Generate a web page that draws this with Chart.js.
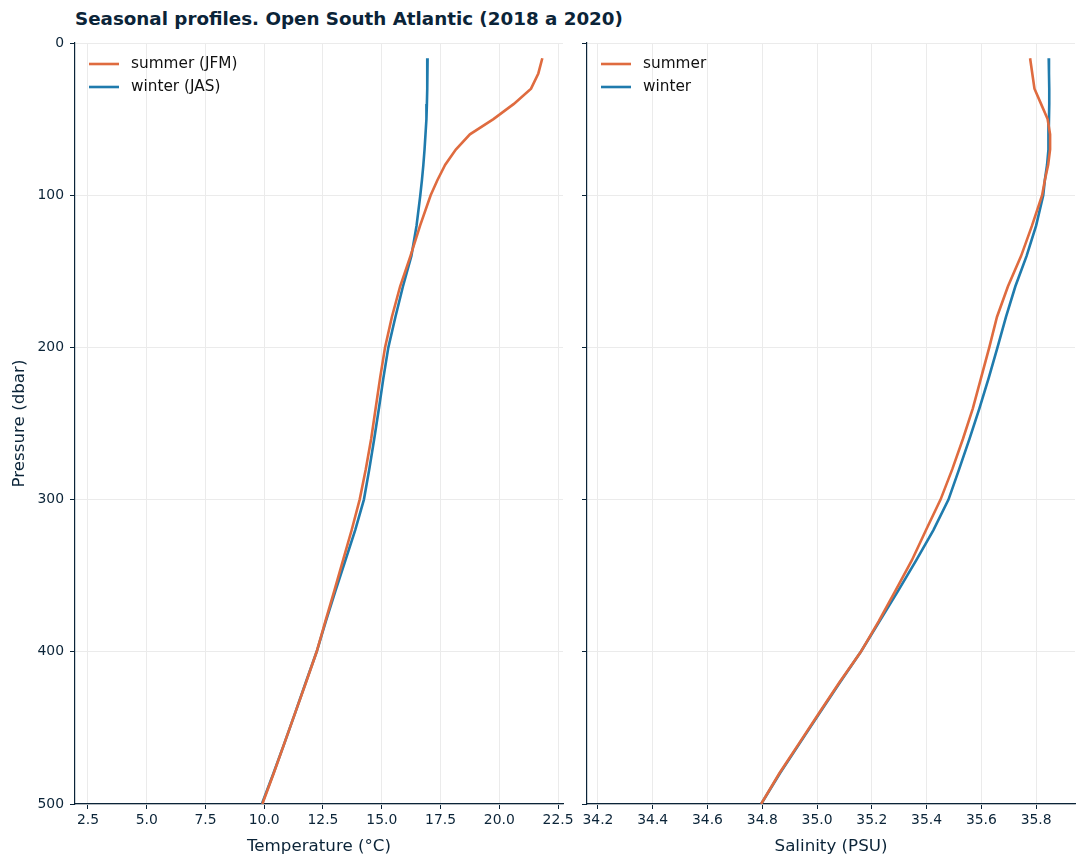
<!DOCTYPE html>
<html>
<head>
<meta charset="utf-8">
<script src="https://cdn.jsdelivr.net/npm/chart.js@4.4.1/dist/chart.umd.min.js"></script>
<style>
  body { margin: 0; background: #fff; width: 1085px; height: 865px; position: relative; overflow: hidden; font-family: "DejaVu Sans", sans-serif; }
  #title { position: absolute; left: 75px; top: 8px; font-weight: bold; font-size: 18.3px; color: #0b2438; white-space: nowrap; }
  .box { position: absolute; top: 0; height: 865px; }
  #tempBox { left: 0; width: 590px; }
  #salBox { left: 560px; width: 525px; }
</style>
</head>
<body>
<div id="title">Seasonal profiles. Open South Atlantic (2018 a 2020)</div>
<div class="box" id="tempBox"><canvas id="temp-chart"></canvas></div>
<div class="box" id="salBox"><canvas id="sal-chart"></canvas></div>
<script>
// pressure levels (dbar) shared by all profiles
const pressureLevels = [10, 20, 30, 40, 50, 60, 70, 80, 90, 100,
    120, 140, 160, 180, 200, 220, 240, 260, 280, 300,
    320, 340, 360, 380, 400, 420, 440, 460, 480, 500];

// temperature (°C)
const tempSummer = [21.83, 21.66, 21.35, 20.62, 19.75, 18.75, 18.15, 17.70, 17.37, 17.08,
    16.63, 16.22, 15.78, 15.43, 15.14, 14.93, 14.74, 14.55, 14.32, 14.06,
    13.72, 13.35, 12.98, 12.60, 12.23, 11.78, 11.32, 10.86, 10.40, 9.92];
const tempWinter = [16.95, 16.94, 16.93, 16.92, 16.90, 16.86, 16.82, 16.77, 16.71, 16.64,
    16.48, 16.26, 15.90, 15.58, 15.28, 15.07, 14.88, 14.68, 14.47, 14.24,
    13.87, 13.45, 13.03, 12.62, 12.23, 11.77, 11.32, 10.86, 10.39, 9.90];

// salinity (PSU)
const salSummer = [35.778, 35.786, 35.794, 35.818, 35.842, 35.851, 35.851, 35.844, 35.832, 35.822,
    35.785, 35.745, 35.697, 35.657, 35.629, 35.599, 35.569, 35.533, 35.494, 35.451,
    35.398, 35.346, 35.286, 35.225, 35.160, 35.082, 35.008, 34.935, 34.862, 34.796];
const salWinter = [35.846, 35.847, 35.848, 35.848, 35.847, 35.846, 35.844, 35.840, 35.832, 35.826,
    35.800, 35.765, 35.724, 35.690, 35.659, 35.627, 35.593, 35.557, 35.519, 35.480,
    35.425, 35.362, 35.296, 35.228, 35.160, 35.084, 35.010, 34.937, 34.864, 34.796];

// tick labels
const pressureTicks = [0, 100, 200, 300, 400, 500];
const tempTicks = [2.5, 5.0, 7.5, 10.0, 12.5, 15.0, 17.5, 20.0, 22.5];
const salTicks = [34.2, 34.4, 34.6, 34.8, 35.0, 35.2, 35.4, 35.6, 35.8];

const tempLabels = ['summer (JFM)', 'winter (JAS)'];
const salLabels = ['summer', 'winter'];

const navy = '#0b2438';
const gridGray = '#ebebeb';
const orange = '#df6b3f';
const blue = '#1f7bad';
const font = '"DejaVu Sans", sans-serif';

function toPoints(values) {
    return values.map((v, i) => ({ x: v, y: pressureLevels[i] }));
}

function profileDataset(label, values, color) {
    return {
        label: label,
        data: toPoints(values),
        borderColor: color,
        backgroundColor: color,
        borderWidth: 2.6,
        pointRadius: 0,
        tension: 0,
        fill: false
    };
}

// legend drawn inside the plot, top left
const insideLegend = {
    id: 'insideLegend',
    afterDraw(chart) {
        const { ctx, chartArea } = chart;
        ctx.save();
        ctx.font = '15.3px ' + font;
        ctx.textBaseline = 'middle';
        ctx.textAlign = 'left';
        chart.data.datasets.forEach((ds, i) => {
            const y = chartArea.top + 21 + i * 23;
            const x = chartArea.left + 14;
            ctx.strokeStyle = ds.borderColor;
            ctx.lineWidth = 2.6;
            ctx.beginPath();
            ctx.moveTo(x, y);
            ctx.lineTo(x + 30, y);
            ctx.stroke();
            ctx.fillStyle = '#111';
            ctx.fillText(ds.label, x + 42, y);
        });
        ctx.restore();
    }
};

function xScale(min, max, ticks, title) {
    return {
        type: 'linear',
        position: 'bottom',
        min: min,
        max: max,
        afterBuildTicks: s => { s.ticks = ticks.map(v => ({ value: v })); },
        afterFit: s => { s.height = 61; },
        grid: { color: gridGray, tickColor: navy, tickLength: 5, lineWidth: 1 },
        border: { color: navy, width: 1.2 },
        ticks: { color: navy, font: { family: font, size: 13.9 }, padding: 3, maxRotation: 0, callback: v => v.toFixed(1) },
        title: { display: true, text: title, color: navy, font: { family: font, size: 16.7 }, padding: { top: 2, bottom: 8 } }
    };
}

function yScale(width, showLabels) {
    return {
        type: 'linear',
        reverse: true,
        min: 0,
        max: 500,
        afterBuildTicks: s => { s.ticks = pressureTicks.map(v => ({ value: v })); },
        afterFit: s => { s.width = width; },
        grid: { color: gridGray, tickColor: navy, tickLength: 5, lineWidth: 1 },
        border: { color: navy, width: 1.2 },
        ticks: { color: navy, font: { family: font, size: 13.9 }, padding: 6, callback: v => showLabels ? String(v) : '' },
        title: { display: showLabels, text: 'Pressure (dbar)', color: navy, font: { family: font, size: 16.7 }, padding: { top: 10, bottom: 4 } }
    };
}

function baseOptions(xOpts, yOpts, padding) {
    return {
        responsive: true,
        maintainAspectRatio: false,
        animation: false,
        layout: { padding: padding },
        plugins: { legend: { display: false }, tooltip: { enabled: false } },
        scales: { x: xOpts, y: yOpts }
    };
}

new Chart(document.getElementById('temp-chart'), {
    type: 'line',
    data: {
        datasets: [
            profileDataset(tempLabels[0], tempSummer, orange),
            profileDataset(tempLabels[1], tempWinter, blue)
        ]
    },
    options: baseOptions(
        xScale(1.95, 22.71, tempTicks, 'Temperature (°C)'),
        yScale(75, true),
        { top: 43, right: 27, bottom: 0, left: 0 }
    ),
    plugins: [insideLegend]
});

new Chart(document.getElementById('sal-chart'), {
    type: 'line',
    data: {
        datasets: [
            profileDataset(salLabels[0], salSummer, orange),
            profileDataset(salLabels[1], salWinter, blue)
        ]
    },
    options: baseOptions(
        xScale(34.16, 35.942, salTicks, 'Salinity (PSU)'),
        yScale(27, false),
        { top: 43, right: 10, bottom: 0, left: 0 }
    ),
    plugins: [insideLegend]
});
</script>
</body>
</html>
